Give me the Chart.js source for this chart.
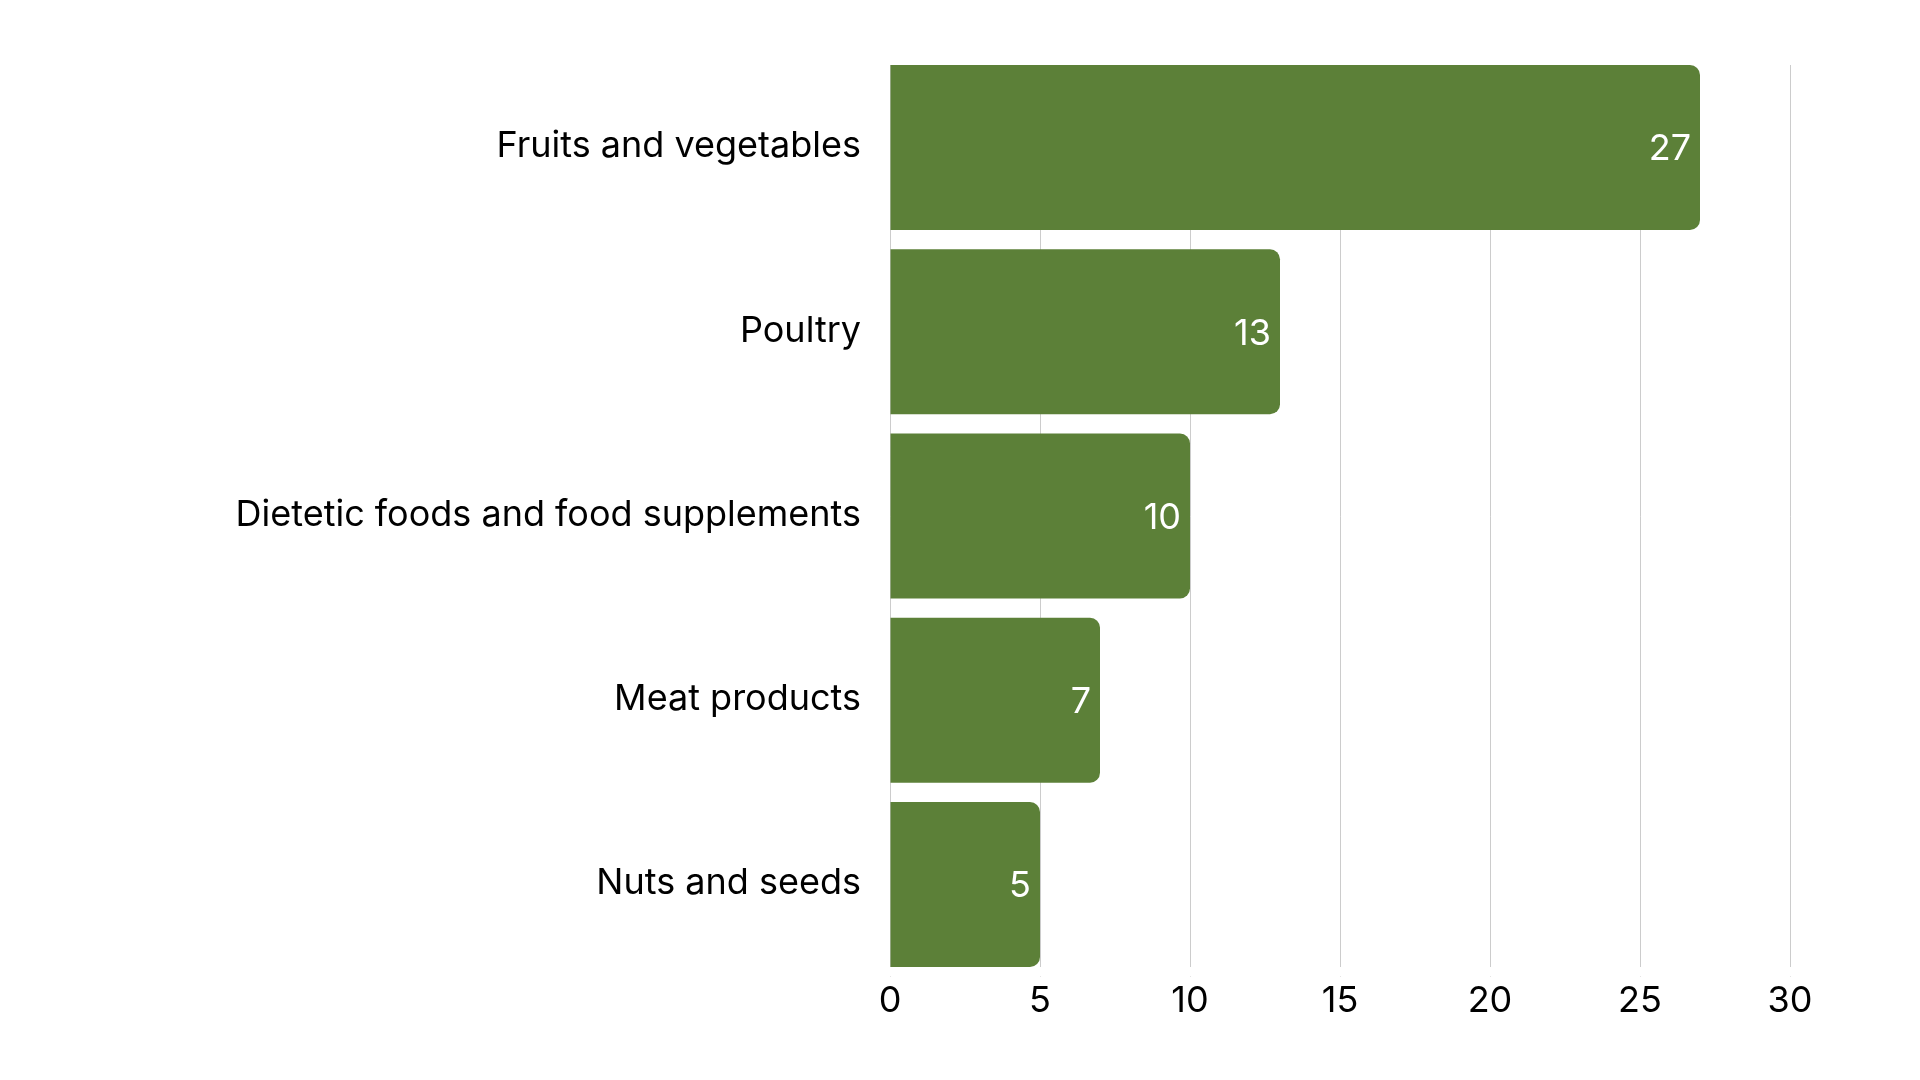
<!DOCTYPE html>
<html lang="en">
<head>
    <meta charset="UTF-8">
    <title>Categories</title>
    <style>
        body {
            margin: 0;
            padding: 0;
            background: #fff;
        }

        .container {
            width: 1920px;
            height: 1080px;
        }
    </style>
    <script src="https://cdn.jsdelivr.net/npm/chart.js"></script>
</head>
<body>
    <div class="container">
        <canvas id="chart" width="1920" height="1080"></canvas>
    </div>
<script>
    var categories = ['Fruits and vegetables', 'Poultry', 'Dietetic foods and food supplements', 'Meat products', 'Nuts and seeds'];
    var values = [27, 13, 10, 7, 5];
    var xMax = 30;
    var xStep = 5;

    var barColor = '#5c8038';
    var fontFamily = 'Inter, "Noto Sans", sans-serif';
    var barPct = 0.8955;

    // keep the vertical grid lines inside the span of the bars
    var gridClip = {
        id: 'gridClip',
        beforeDraw: function(chart) {
            var a = chart.chartArea;
            var pitch = (a.bottom - a.top) / categories.length;
            var gap = pitch * (1 - barPct) / 2;
            var ctx = chart.ctx;
            ctx.save();
            ctx.beginPath();
            ctx.rect(0, 0, chart.width, a.top + gap);
            ctx.rect(0, a.top + gap, chart.width, a.bottom - a.top - 2 * gap);
            ctx.rect(0, a.bottom - gap, a.left - 1, gap);
            ctx.rect(a.right + 1, a.bottom - gap, chart.width - a.right - 1, gap);
            ctx.rect(0, a.bottom, chart.width, chart.height - a.bottom);
            ctx.clip();
            // top strip: clip it out as well
            ctx.beginPath();
            ctx.rect(0, 0, a.left - 1, chart.height);
            ctx.rect(a.right + 1, 0, chart.width - a.right - 1, chart.height);
            ctx.rect(a.left - 1, a.top + gap, a.right - a.left + 2, chart.height - a.top - gap);
            ctx.clip();
        },
        beforeDatasetsDraw: function(chart) {
            chart.ctx.restore();
        }
    };

    // draws the value inside the end of each bar
    var valueLabels = {
        id: 'valueLabels',
        afterDatasetsDraw: function(chart) {
            var ctx = chart.ctx;
            var meta = chart.getDatasetMeta(0);
            ctx.save();
            ctx.font = '36px ' + fontFamily;
            ctx.fillStyle = '#ffffff';
            ctx.textAlign = 'right';
            ctx.textBaseline = 'middle';
            meta.data.forEach(function(bar, i) {
                ctx.fillText(values[i], bar.x - 9, bar.y + 2);
            });
            ctx.restore();
        }
    };

    var ctx = document.getElementById('chart').getContext('2d');
    var myChart = new Chart(ctx, {
        type: 'bar',
        data: {
            labels: categories,
            datasets: [{
                data: values,
                backgroundColor: barColor,
                borderRadius: 10,
                borderSkipped: 'start',
                barPercentage: barPct,
                categoryPercentage: 1
            }]
        },
        options: {
            indexAxis: 'y',
            responsive: false,
            animation: false,
            layout: {
                padding: { top: 55.4, right: 130, left: 0, bottom: 0 }
            },
            plugins: {
                legend: { display: false },
                tooltip: { enabled: false }
            },
            scales: {
                x: {
                    min: 0,
                    max: xMax,
                    border: { display: false },
                    grid: { color: '#cccccc', lineWidth: 1, drawTicks: false },
                    ticks: {
                        stepSize: xStep,
                        padding: 3,
                        color: '#000',
                        font: { family: fontFamily, size: 36 }
                    },
                    afterFit: function(scale) { scale.height = 103.4; }
                },
                y: {
                    border: { display: false },
                    grid: { display: false, drawTicks: false },
                    ticks: {
                        padding: 29,
                        labelOffset: -1,
                        color: '#000',
                        font: { family: fontFamily, size: 36 }
                    },
                    afterFit: function(scale) { scale.width = 890; }
                }
            }
        },
        plugins: [gridClip, valueLabels]
    });
</script>
</body>
</html>
